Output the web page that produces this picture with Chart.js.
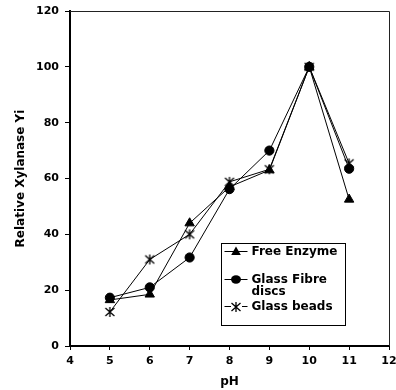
<!DOCTYPE html>
<html>
<head>
<meta charset="utf-8">
<script src="https://cdn.jsdelivr.net/npm/chart.js@4/dist/chart.umd.min.js"></script>
<style>
  html, body { margin: 0; padding: 0; background: #fff; }
  #wrap { width: 396px; height: 390px; }
</style>
</head>
<body>
<div id="wrap"><canvas id="chart" width="396" height="390"></canvas></div>
<script>
const phValues = [5, 6, 7, 8, 9, 10, 11];
const freeEnzyme = [16.5, 18.5, 44, 57, 63, 100, 52.5];
const glassFibre = [17.3, 21, 31.7, 56.2, 70, 100, 63.5];
const glassBeads = [12.2, 31, 40, 58.8, 63.3, 100, 65.4];
const seriesNames = ["Free Enzyme", "Glass Fibre discs", "Glass beads"];
const legendLines = [["Free Enzyme"], ["Glass Fibre", "discs"], ["Glass beads"]];

const FONT = "'DejaVu Sans', sans-serif";

// asterisk marker: X with a vertical bar
function makeAsterisk() {
  const c = document.createElement("canvas");
  c.width = 12;
  c.height = 12;
  const g = c.getContext("2d");
  g.strokeStyle = "#000";
  g.lineWidth = 1.3;
  g.beginPath();
  g.moveTo(1.5, 2); g.lineTo(10.5, 10);
  g.moveTo(10.5, 2); g.lineTo(1.5, 10);
  g.moveTo(6, 1); g.lineTo(6, 11);
  g.stroke();
  return c;
}
const asterisk = makeAsterisk();

function toPoints(ys) {
  return phValues.map((x, i) => ({ x, y: ys[i] }));
}

const frameBox = {
  id: "frameBox",
  afterDraw(chart) {
    const { ctx, chartArea: a } = chart;
    ctx.save();
    ctx.strokeStyle = "#222";
    ctx.lineWidth = 1;
    ctx.beginPath();
    ctx.moveTo(a.left, a.top + 0.5);
    ctx.lineTo(a.right + 0.5, a.top + 0.5);
    ctx.lineTo(a.right + 0.5, a.bottom);
    ctx.stroke();
    ctx.restore();
  },
};

const boxLegend = {
  id: "boxLegend",
  afterDraw(chart) {
    const { ctx, chartArea: a } = chart;
    const x0 = a.left + 151.5;
    const y0 = a.top + 232.5;
    const w = 124;
    const h = 82;
    ctx.save();
    ctx.strokeStyle = "#000";
    ctx.lineWidth = 1;
    ctx.fillStyle = "#fff";
    ctx.fillRect(x0, y0, w, h);
    ctx.strokeRect(x0, y0, w, h);
    const rows = [8, 36, 63];
    chart.data.datasets.forEach((ds, i) => {
      const cy = y0 + rows[i];
      ctx.strokeStyle = "#000";
      ctx.lineWidth = 1;
      ctx.beginPath();
      ctx.moveTo(x0 + 3, cy);
      ctx.lineTo(x0 + 26, cy);
      ctx.stroke();
      const cx = x0 + 14.5;
      if (ds.pointStyle === "triangle") {
        ctx.fillStyle = "#000";
        ctx.beginPath();
        ctx.moveTo(cx, cy - 5);
        ctx.lineTo(cx + 4.8, cy + 3.5);
        ctx.lineTo(cx - 4.8, cy + 3.5);
        ctx.closePath();
        ctx.fill();
      } else if (ds.pointStyle === "circle") {
        ctx.fillStyle = "#000";
        ctx.beginPath();
        ctx.ellipse(cx, cy, 5, 4.2, 0, 0, Math.PI * 2);
        ctx.fill();
      } else {
        ctx.fillStyle = "#fff";
        ctx.fillRect(cx - 5, cy - 5, 11, 11);
        ctx.drawImage(asterisk, Math.round(cx - 6), Math.round(cy - 6));
      }
      ctx.fillStyle = "#000";
      ctx.font = "bold 12px " + FONT;
      ctx.textBaseline = "middle";
      ctx.textAlign = "left";
      legendLines[i].forEach((line, j) => {
        ctx.fillText(line, x0 + 30, cy + j * 12);
      });
    });
    ctx.restore();
  },
};

const lineStyle = {
  borderColor: "#000",
  backgroundColor: "#000",
  pointBorderColor: "#000",
  pointBackgroundColor: "#000",
  borderWidth: 1,
  tension: 0,
  fill: false,
};

new Chart(document.getElementById("chart"), {
  type: "line",
  data: {
    datasets: [
      { ...lineStyle, label: seriesNames[0], data: toPoints(freeEnzyme), pointStyle: "triangle", pointRadius: 5.4 },
      { ...lineStyle, label: seriesNames[1], data: toPoints(glassFibre), pointStyle: "circle", pointRadius: 4.6 },
      { ...lineStyle, label: seriesNames[2], data: toPoints(glassBeads), pointStyle: asterisk, pointRadius: 5 },
    ],
  },
  options: {
    responsive: false,
    animation: false,
    layout: { padding: { left: 0, top: 11, right: 7, bottom: 0 } },
    plugins: {
      legend: { display: false },
      tooltip: { enabled: false },
    },
    scales: {
      x: {
        type: "linear",
        min: 4,
        max: 12,
        afterFit: (s) => { s.height = 44; s.paddingLeft = 0; s.paddingRight = 0; },
        ticks: {
          stepSize: 1,
          color: "#000",
          padding: 5,
          maxRotation: 0,
          font: { family: FONT, weight: "bold", size: 11 },
        },
        grid: { drawOnChartArea: false, drawTicks: true, tickLength: 4, color: "#000" },
        border: { color: "#000", width: 2 },
        title: {
          display: true,
          text: "pH",
          color: "#000",
          padding: { top: 0, bottom: 1 },
          font: { family: FONT, weight: "bold", size: 12 },
        },
      },
      y: {
        min: 0,
        max: 120,
        afterFit: (s) => { s.width = 70; s.paddingTop = 0; s.paddingBottom = 0; },
        ticks: {
          stepSize: 20,
          color: "#000",
          padding: 6,
          font: { family: FONT, weight: "bold", size: 11 },
        },
        grid: { drawOnChartArea: false, drawTicks: true, tickLength: 5, color: "#000" },
        border: { color: "#000", width: 2 },
        title: {
          display: true,
          text: "Relative Xylanase Yi",
          color: "#000",
          padding: { top: 14, bottom: 0 },
          font: { family: FONT, weight: "bold", size: 12 },
        },
      },
    },
  },
  plugins: [frameBox, boxLegend],
});
</script>
</body>
</html>
